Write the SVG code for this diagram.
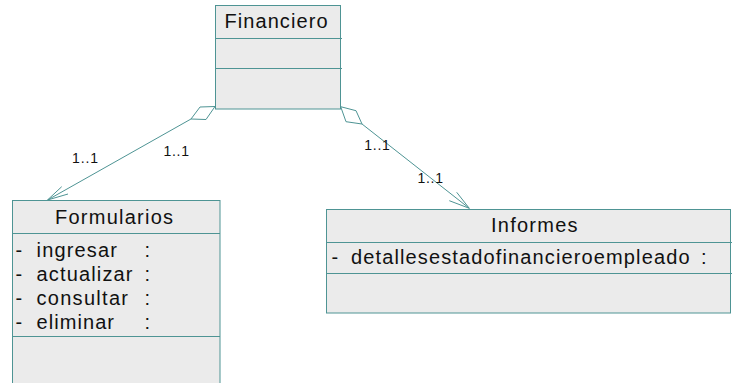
<svg xmlns="http://www.w3.org/2000/svg" width="732" height="383" viewBox="0 0 732 383">
<style>
.box{fill:#ebebeb;stroke:#4e9494;stroke-width:1}
.ln{stroke:#4e9494;stroke-width:1;fill:none}
.t{font-family:"Liberation Sans",Arial,sans-serif;font-size:20px;fill:#111}
.lbl{font-family:"Liberation Sans",Arial,sans-serif;font-size:14px;fill:#111}
</style>
<rect width="732" height="383" fill="#ffffff"/>
<g id="connectors">
<polygon class="ln" points="215,106.5 200,107 191,119 206,119.5" style="fill:#fff"/>
<line class="ln" x1="191" y1="119" x2="47.5" y2="200"/>
<polyline class="ln" points="61.7,186.7 47.5,200 68,194"/>
<polygon class="ln" points="340.7,106.7 356,110.7 362,124 346,121.7" style="fill:#fff"/>
<line class="ln" x1="362" y1="124" x2="469.3" y2="208.3"/>
<polyline class="ln" points="456.7,192.3 469.3,208.3 449.3,200.7"/>
<text class="lbl" x="72" y="162.5" textLength="26">1..1</text>
<text class="lbl" x="163.5" y="156" textLength="25.5">1..1</text>
<text class="lbl" x="364.3" y="149.5" textLength="25.5">1..1</text>
<text class="lbl" x="417.5" y="182.5" textLength="25.5">1..1</text>
</g>
<g id="financiero">
<rect class="box" x="215.5" y="5.5" width="125" height="103.5"/>
<line class="ln" x1="215.5" y1="38.5" x2="342" y2="38.5"/>
<line class="ln" x1="215.5" y1="68.5" x2="342" y2="68.5"/>
<text class="t" x="224.5" y="27.5" textLength="103">Financiero</text>
</g>
<g id="formularios">
<rect class="box" x="12.5" y="200.5" width="207.5" height="190"/>
<line class="ln" x1="12.5" y1="233.5" x2="220" y2="233.5"/>
<line class="ln" x1="12.5" y1="336.5" x2="220" y2="336.5"/>
<text class="t" x="55" y="223.5" textLength="118">Formularios</text>
<text class="t" x="15.5" y="256.5">-</text>
<text class="t" x="36.5" y="256.5" textLength="80.5">ingresar</text>
<text class="t" x="144.5" y="256.5">:</text>
<text class="t" x="15.5" y="281">-</text>
<text class="t" x="36.5" y="281" textLength="96">actualizar</text>
<text class="t" x="144.5" y="281">:</text>
<text class="t" x="15.5" y="305">-</text>
<text class="t" x="36.5" y="305" textLength="91.5">consultar</text>
<text class="t" x="144.5" y="305">:</text>
<text class="t" x="15.5" y="328.5">-</text>
<text class="t" x="36.5" y="328.5" textLength="77.5">eliminar</text>
<text class="t" x="144.5" y="328.5">:</text>
</g>
<g id="informes">
<rect class="box" x="326.5" y="209.5" width="404" height="103.5"/>
<line class="ln" x1="326.5" y1="242.5" x2="732" y2="242.5"/>
<line class="ln" x1="326.5" y1="273.5" x2="732" y2="273.5"/>
<text class="t" x="491" y="231.5" textLength="86.5">Informes</text>
<text class="t" x="331.5" y="264">-</text>
<text class="t" x="351" y="264" textLength="338.5">detallesestadofinancieroempleado</text>
<text class="t" x="701" y="264">:</text>
</g>
</svg>
